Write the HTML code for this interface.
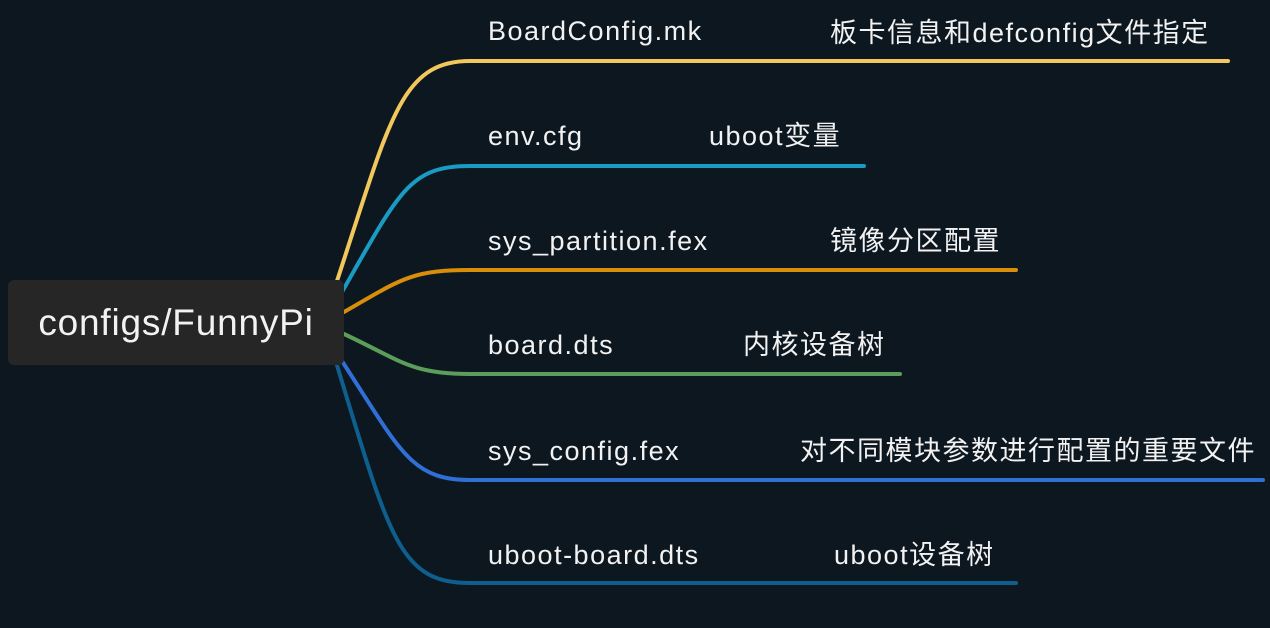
<!DOCTYPE html>
<html><head><meta charset="utf-8"><style>
body{margin:0;width:1270px;height:628px;background:#0d1720;overflow:hidden;position:relative;font-family:"Liberation Sans","Noto Sans CJK SC",sans-serif;}
.t{position:absolute;color:#f2f2f2;font-size:27px;letter-spacing:1.5px;white-space:nowrap;line-height:30px}
#root{position:absolute;left:8px;top:280px;width:336px;height:85px;background:#262626;border-radius:6px;color:#f2f2f2;font-size:37px;letter-spacing:0.8px;display:flex;align-items:center;justify-content:center}
</style></head><body>
<svg width="1270" height="628" style="position:absolute;left:0;top:0" fill="none" stroke-width="4" stroke-linecap="round">
<path d="M336 284 C390 120,400 61,470 61 L1228 61" stroke="#f2c75c"/>
<path d="M342 292 C400 190,410 166,470 166 L864 166" stroke="#1a9bc4"/>
<path d="M344 312 C400 280,410 270,470 270 L1016 270" stroke="#d98e0a"/>
<path d="M344 334 C400 360,410 374,470 374 L900 374" stroke="#5a9e5a"/>
<path d="M340 358 C400 450,410 480,470 480 L1263 480" stroke="#2f6fd6"/>
<path d="M336 362 C390 540,400 583,470 583 L1016 583" stroke="#0e5f8e"/>
</svg>
<div id="root">configs/FunnyPi</div>
<div class="t" style="left:488px;top:16px">BoardConfig.mk</div>
<div class="t" style="left:830px;top:18px">板卡信息和defconfig文件指定</div>
<div class="t" style="left:488px;top:121px">env.cfg</div>
<div class="t" style="left:709px;top:121px">uboot变量</div>
<div class="t" style="left:488px;top:226px">sys_partition.fex</div>
<div class="t" style="left:830px;top:226px">镜像分区配置</div>
<div class="t" style="left:488px;top:330px">board.dts</div>
<div class="t" style="left:743px;top:330px">内核设备树</div>
<div class="t" style="left:488px;top:436px">sys_config.fex</div>
<div class="t" style="left:800px;top:436px">对不同模块参数进行配置的重要文件</div>
<div class="t" style="left:488px;top:540px">uboot-board.dts</div>
<div class="t" style="left:834px;top:540px">uboot设备树</div>
</body></html>
